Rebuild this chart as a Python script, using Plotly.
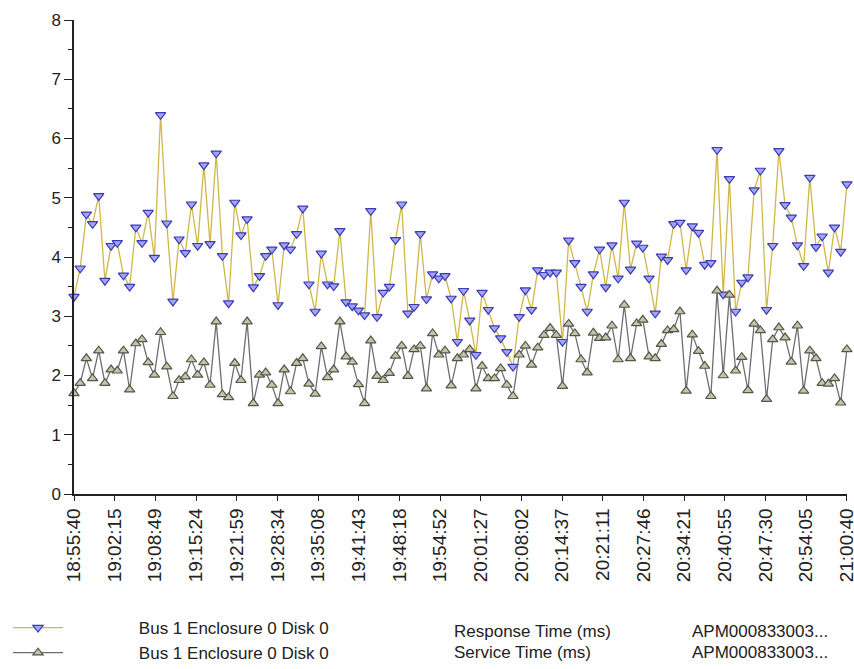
import pandas as pd
import plotly.graph_objects as go

tick_labels = ["18:55:40", "19:02:15", "19:08:49", "19:15:24", "19:21:59", "19:28:34",
               "19:35:08", "19:41:43", "19:48:18", "19:54:52", "20:01:27", "20:08:02",
               "20:14:37", "20:21:11", "20:27:46", "20:34:21", "20:40:55", "20:47:30",
               "20:54:05", "21:00:40"]

response_ms = [3.33, 3.81, 4.72, 4.56, 5.03, 3.60, 4.19, 4.24, 3.69, 3.50,
               4.50, 4.24, 4.75, 3.99, 6.40, 4.57, 3.25, 4.30, 4.07, 4.89,
               4.19, 5.55, 4.22, 5.75, 4.02, 3.22, 4.92, 4.37, 4.64, 3.49,
               3.68, 4.02, 4.13, 3.19, 4.20, 4.13, 4.39, 4.82, 3.54, 3.08,
               4.06, 3.54, 3.51, 4.44, 3.24, 3.17, 3.10, 3.02, 4.78, 2.99,
               3.40, 3.50, 4.29, 4.89, 3.05, 3.16, 4.39, 3.29, 3.71, 3.64,
               3.68, 3.30, 2.57, 3.43, 2.93, 2.35, 3.40, 3.11, 2.80, 2.63,
               2.40, 2.15, 2.99, 3.44, 3.11, 3.78, 3.70, 3.74, 3.74, 2.57,
               4.28, 3.90, 3.50, 3.08, 3.71, 4.13, 3.49, 4.20, 3.64, 4.92,
               3.79, 4.23, 4.16, 3.64, 3.05, 4.01, 3.95, 4.56, 4.58, 3.78,
               4.52, 4.41, 3.87, 3.90, 5.81, 3.37, 5.32, 3.08, 3.57, 3.66,
               5.13, 5.46, 3.11, 4.19, 5.79, 4.88, 4.67, 4.20, 3.85, 5.34,
               4.17, 4.35, 3.74, 4.50, 4.09, 5.23]

service_ms = [1.70, 1.87, 2.29, 1.95, 2.42, 1.87, 2.10, 2.08, 2.42, 1.76,
              2.54, 2.61, 2.22, 2.01, 2.73, 2.15, 1.65, 1.92, 1.98, 2.27,
              2.01, 2.22, 1.84, 2.91, 1.68, 1.63, 2.21, 1.92, 2.91, 1.53,
              2.01, 2.05, 1.84, 1.53, 2.10, 1.73, 2.21, 2.29, 1.86, 1.69,
              2.49, 1.97, 2.10, 2.91, 2.32, 2.23, 1.85, 1.53, 2.59, 1.99,
              1.92, 2.04, 2.33, 2.50, 1.99, 2.44, 2.50, 1.78, 2.71, 2.35,
              2.42, 1.83, 2.29, 2.35, 2.44, 1.78, 2.16, 1.95, 1.95, 2.12,
              1.84, 1.65, 2.35, 2.50, 2.18, 2.47, 2.68, 2.80, 2.68, 1.82,
              2.87, 2.71, 2.27, 2.05, 2.72, 2.63, 2.64, 2.84, 2.27, 3.19,
              2.29, 2.88, 2.94, 2.32, 2.29, 2.53, 2.76, 2.78, 3.08, 1.74,
              2.69, 2.41, 2.16, 1.65, 3.43, 2.00, 3.36, 2.08, 2.31, 1.75,
              2.87, 2.76, 1.60, 2.61, 2.81, 2.64, 2.23, 2.84, 1.74, 2.42,
              2.29, 1.87, 1.86, 1.95, 1.54, 2.44]

object_name = "Bus 1 Enclosure 0 Disk 0"
metric_names = ["Response Time (ms)", "Service Time (ms)"]
storage_name = "APM000833003..."

day = "2010-01-01 "
times = pd.date_range(day + tick_labels[0], periods=len(response_ms), freq="60s")
tick_vals = [day + t for t in tick_labels]
x_range = [pd.Timestamp(tick_vals[0]), pd.Timestamp(tick_vals[-1]) + pd.Timedelta(seconds=1)]

FONT = "Liberation Sans, Arial, sans-serif"
W, H = 854, 669
PL, PR, PT, PB = 74, 847, 20, 494   # plot box in page pixels
ML, MT, MR, MB = PL, PT, W - PR, H - PB
plot_w, plot_h = PR - PL, PB - PT

def px(x):
    return (x - PL) / plot_w

def py(y):
    return (PB - y) / plot_h

fig = go.Figure()
pad = "\u00a0" * 15
fig.add_trace(go.Scatter(
    x=times, y=response_ms, mode="lines+markers", name=pad + object_name,
    line=dict(color="#d0b848", width=1.3),
    marker=dict(symbol="triangle-down", size=9, color="#a4a4f4",
                line=dict(color="#3a3ab4", width=1.2)),
    cliponaxis=False))
fig.add_trace(go.Scatter(
    x=times, y=service_ms, mode="lines+markers", name=pad + object_name,
    line=dict(color="#6e6e6e", width=1.3),
    marker=dict(symbol="triangle-up", size=9, color="#c4c4aa",
                line=dict(color="#55554a", width=1.2)),
    cliponaxis=False))

row_y = [631, 652]
for i, m in enumerate(metric_names):
    fig.add_annotation(x=px(452), y=py(row_y[i]), xref="paper", yref="paper",
                       text=m, showarrow=False, xanchor="left", yanchor="middle",
                       font=dict(family=FONT, size=17, color="#222"))
    fig.add_annotation(x=px(690), y=py(row_y[i]), xref="paper", yref="paper",
                       text=storage_name, showarrow=False, xanchor="left", yanchor="middle",
                       font=dict(family=FONT, size=17, color="#222"))

fig.update_layout(
    width=W, height=H,
    margin=dict(l=ML, r=MR, t=MT, b=MB, autoexpand=False),
    paper_bgcolor="white", plot_bgcolor="white",
    font=dict(family=FONT, size=17, color="#222"),
    showlegend=True,
    legend=dict(xref="container", yref="container", x=8 / W, y=1 - 610 / H,
                xanchor="left", yanchor="top", itemwidth=50, tracegroupgap=0,
                font=dict(family=FONT, size=17, color="#222"),
                bgcolor="rgba(0,0,0,0)"),
    xaxis=dict(type="date", range=x_range,
               tickmode="array", tickvals=tick_vals, ticktext=tick_labels,
               tickangle=-90, ticks="outside", ticklen=5, tickcolor="#222",
               ticklabeloverflow="allow",
               showline=True, linecolor="#222", linewidth=1.5,
               showgrid=False, zeroline=False,
               tickfont=dict(family=FONT, size=19, color="#222")),
    yaxis=dict(range=[0, 8], dtick=1, tick0=0, ticks="outside", ticklen=8,
               tickcolor="#222", showline=True, linecolor="#222", linewidth=1.5,
               showgrid=False, zeroline=False,
               minor=dict(dtick=0.5, ticks="outside", ticklen=4, tickcolor="#222", showgrid=False),
               tickfont=dict(family=FONT, size=17, color="#222")),
)

fig.write_html("out.html",
               config={"displayModeBar": False},
               post_script="document.body.style.margin='0';document.body.style.overflow='hidden';")
